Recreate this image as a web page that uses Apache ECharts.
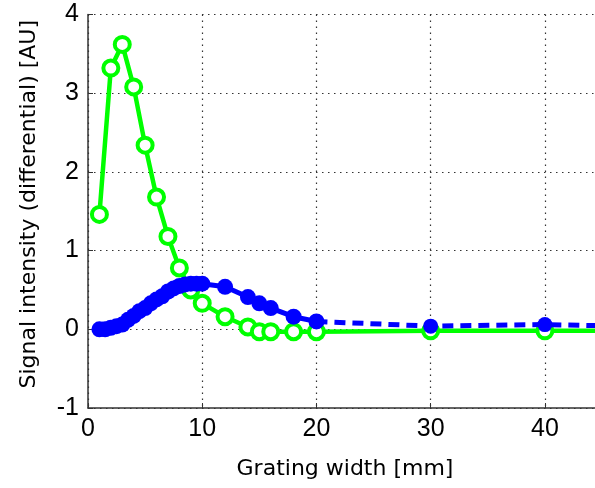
<!DOCTYPE html>
<html><head><meta charset="utf-8">
<script src="https://cdn.jsdelivr.net/npm/echarts@6/dist/echarts.min.js"></script>
<style>html,body{margin:0;padding:0;background:#fff}#c{width:595px;height:488px}</style>
</head><body><div id="c"></div>
<script>
const greenX = [1,2,3,4,5,6,7,8,9,10,12,14,15,16,18,20,30,40,50];
const greenY = [1.46,3.32,3.62,3.08,2.34,1.68,1.18,0.78,0.5,0.33,0.16,0.03,-0.03,-0.03,-0.03,-0.03,-0.02,-0.02,-0.02];
const blueX = [1,1.5,2,2.5,3,3.5,4,4.5,5,5.5,6,6.5,7,7.5,8,8.5,9,9.5,10,12,14,15,16,18,20];
const blueY = [0.0,0.0,0.02,0.04,0.06,0.12,0.17,0.23,0.27,0.33,0.38,0.42,0.48,0.52,0.55,0.57,0.58,0.58,0.58,0.54,0.41,0.33,0.27,0.16,0.1];
const blueDashX = [20,30,40,50];
const blueDashY = [0.1,0.04,0.06,0.03];
const xTicks = [0,10,20,30,40];
const yTicks = [-1,0,1,2,3,4];

const pair = (xs, ys) => xs.map((x,i)=>[x, ys[i]]);
const tickFont = 'Liberation Sans, Arial, sans-serif';
const nameFont = 'DejaVu Sans, sans-serif';
const chart = echarts.init(document.getElementById('c'), null, {renderer:'canvas'});
chart.setOption({
  animation:false,
  backgroundColor:'#fff',
  grid:{left:88, top:14.5, width:514, height:393.5, outerBoundsMode:'none', containLabel:false},
  xAxis:{type:'value', min:0, max:45, interval:10,
    name:'Grating width [mm]', nameLocation:'middle', nameGap:50,
    nameTextStyle:{fontFamily:nameFont, fontSize:22, color:'#000'},
    axisLine:{show:true, onZero:false, lineStyle:{color:'#333', width:1.5}},
    axisTick:{show:true, inside:true, length:5, lineStyle:{color:'#333'}},
    axisLabel:{fontFamily:tickFont, fontSize:25, color:'#000', margin:9,
      formatter:v=> xTicks.includes(v) ? String(v) : ''},
    splitLine:{show:true, lineStyle:{color:'#333', type:[1.5,4.5], width:1.2}}
  },
  yAxis:{type:'value', min:-1, max:4, interval:1,
    name:'Signal intensity (differential) [AU]', nameLocation:'middle', nameGap:48,
    nameTextStyle:{fontFamily:nameFont, fontSize:22, color:'#000', padding:[0,0,0,14]},
    axisLine:{show:true, onZero:false, lineStyle:{color:'#333', width:1.5}},
    axisTick:{show:true, inside:true, length:5, lineStyle:{color:'#333'}},
    axisLabel:{fontFamily:tickFont, fontSize:25, color:'#000', margin:9,
      formatter:v=> yTicks.includes(v) ? String(v) : ''},
    splitLine:{show:true, lineStyle:{color:'#333', type:[1.5,4.5], width:1.2}}
  },
  series:[
    {type:'line', data:pair(greenX, greenY), symbol:'circle', symbolSize:15,
      lineStyle:{color:'#00ff00', width:4.5}, itemStyle:{color:'#fff', borderColor:'#00ff00', borderWidth:4},
      z:2},
    {type:'line', data:pair(blueDashX, blueDashY), symbol:'circle', symbolSize:15,
      lineStyle:{color:'#0000ff', width:5, type:[11,7]}, itemStyle:{color:'#0000ff'}, z:3},
    {type:'line', data:pair(blueX, blueY), symbol:'circle', symbolSize:16,
      lineStyle:{color:'#0000ff', width:5}, itemStyle:{color:'#0000ff'}, z:3}
  ]
});
</script></body></html>
